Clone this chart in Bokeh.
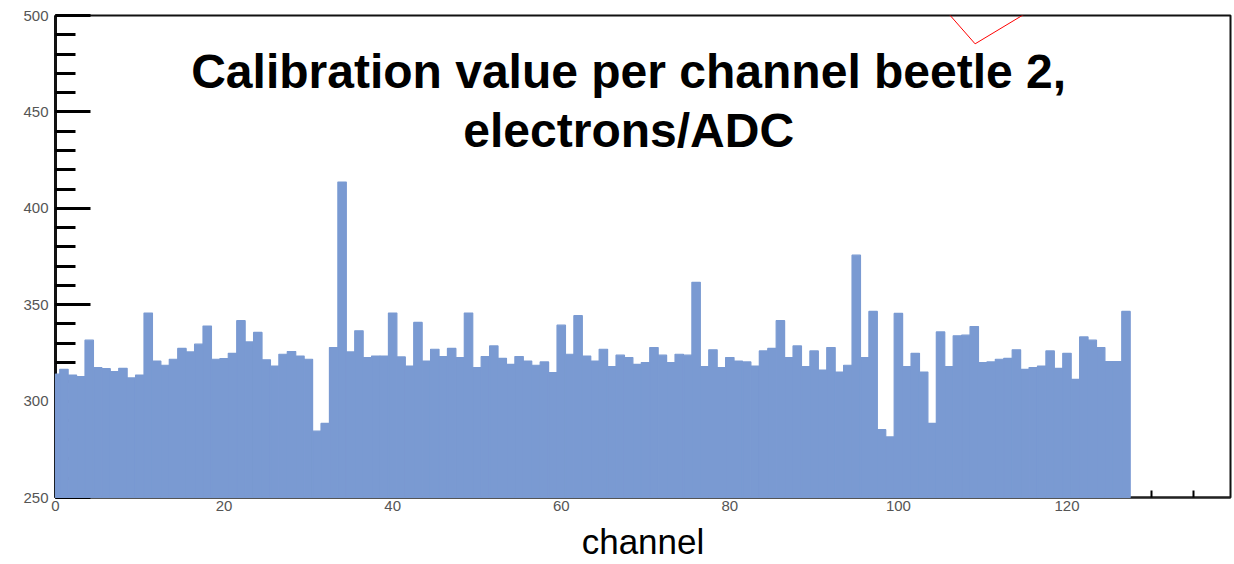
from bokeh.plotting import figure
from bokeh.models import Range1d, SingleIntervalTicker, Label, ColumnDataSource, Arrow, BoxAnnotation
from bokeh.embed import file_html
from bokeh.resources import INLINE

channels = list(range(128))
calib = [
    314, 316.5, 313.5, 312.7, 331.6, 317.4, 316.8, 315.3, 317, 312,
    313.5, 345.7, 320.8, 318.6, 321.7, 327.3, 325.5, 329.5, 338.9, 321.7,
    322, 324.8, 341.7, 330.7, 335.6, 321.4, 318.2, 324.3, 325.7, 323.4,
    321.7, 284.4, 288.4, 327.8, 413.6, 325.5, 336.5, 322.6, 323.4, 323.4,
    345.7, 322.9, 318.2, 340.8, 320.8, 326.9, 323.1, 327.3, 322.6, 345.7,
    317.4, 323.1, 328.6, 322.2, 319.1, 323.1, 320.8, 318.6, 320.3, 314.8,
    339.4, 324.3, 344.3, 323.4, 320.8, 326.9, 317.9, 323.8, 322.6, 319.1,
    320, 327.8, 323.8, 320, 324.3, 323.8, 361.6, 317.9, 326.6, 317.4,
    322.6, 320.8, 320.3, 318.2, 326, 327.3, 341.7, 322.6, 328.6, 317.9,
    326, 316.1, 327.8, 315.1, 318.6, 375.7, 322.6, 346.5, 285.2, 281.4,
    345.5, 317.9, 324.8, 315.1, 288.4, 335.9, 317.9, 333.9, 334.2, 338.7,
    320, 320.3, 321.7, 322.2, 326.6, 316.5, 317.4, 318.2, 326, 317,
    324.8, 311.3, 333.3, 331.6, 327.8, 320.5, 320.5, 346.5,
]
title_lines = ["Calibration value per channel beetle 2,", "electrons/ADC"]
x_label = "channel"

src = ColumnDataSource(dict(ch=channels, val=calib))

p = figure(width=1234, height=564, output_backend="svg", toolbar_location=None,
           x_range=Range1d(0, 139.4), y_range=Range1d(250, 500),
           min_border_left=55, min_border_right=4, min_border_top=15, min_border_bottom=67)
p.grid.visible = False
p.background_fill_color = "white"
p.border_fill_color = "white"
p.outline_line_color = "#111111"
p.outline_line_width = 2
p.outline_line_alpha = 1.0

bars = p.vbar(x="ch", width=1.0, bottom=250, top="val", source=src,
              fill_color="#7a9ad2", line_color="#7a9ad2", line_width=1.2)
bars.level = "annotation"

xa = p.xaxis[0]
xa.ticker = SingleIntervalTicker(interval=20, num_minor_ticks=4)
xa.major_tick_in = 12
xa.major_tick_out = 0
xa.minor_tick_in = 7
xa.minor_tick_out = 0
xa.axis_line_color = "#222222"
xa.axis_line_width = 2
xa.major_tick_line_width = 2
xa.minor_tick_line_width = 2
xa.major_label_text_font = "Liberation Sans"
xa.major_label_text_font_size = "15px"
xa.major_label_text_color = "#555555"
xa.major_label_standoff = 3
xa.axis_label = x_label
xa.axis_label_text_font = "Liberation Sans"
xa.axis_label_text_font_style = "normal"
xa.axis_label_text_font_size = "35px"
xa.axis_label_text_color = "black"
xa.axis_label_standoff = 8

ya = p.yaxis[0]
ya.ticker = SingleIntervalTicker(interval=50, num_minor_ticks=5)
ya.major_tick_in = 35
ya.major_tick_out = 0
ya.minor_tick_in = 20
ya.minor_tick_out = 0
ya.axis_line_color = "#111111"
ya.axis_line_width = 3
ya.major_tick_line_width = 3
ya.minor_tick_line_width = 3
ya.major_label_text_font = "Liberation Sans"
ya.major_label_text_font_size = "15px"
ya.major_label_text_color = "#555555"
ya.major_label_standoff = 7

for txt, yv in zip(title_lines, [470.8, 440.6]):
    p.add_layout(Label(x=68, y=yv, text=txt, text_align="center", text_baseline="middle",
                       text_font="Liberation Sans", text_font_style="bold",
                       text_font_size="48px", text_color="black"))

# stray marks present in the source image
p.add_layout(Arrow(end=None, x_start=104.5, y_start=508.2, x_end=109.1, y_end=485.3,
                   line_color="red", line_width=1))
p.add_layout(Arrow(end=None, x_start=109.1, y_start=485.3, x_end=117.8, y_end=508.2,
                   line_color="red", line_width=1))
p.add_layout(BoxAnnotation(left=-6.5, right=-5.9, bottom=378.3, top=426.1,
                           fill_color="#7a9ad2", fill_alpha=1.0, line_alpha=0))

open("out.html", "w").write(file_html(p, INLINE))
